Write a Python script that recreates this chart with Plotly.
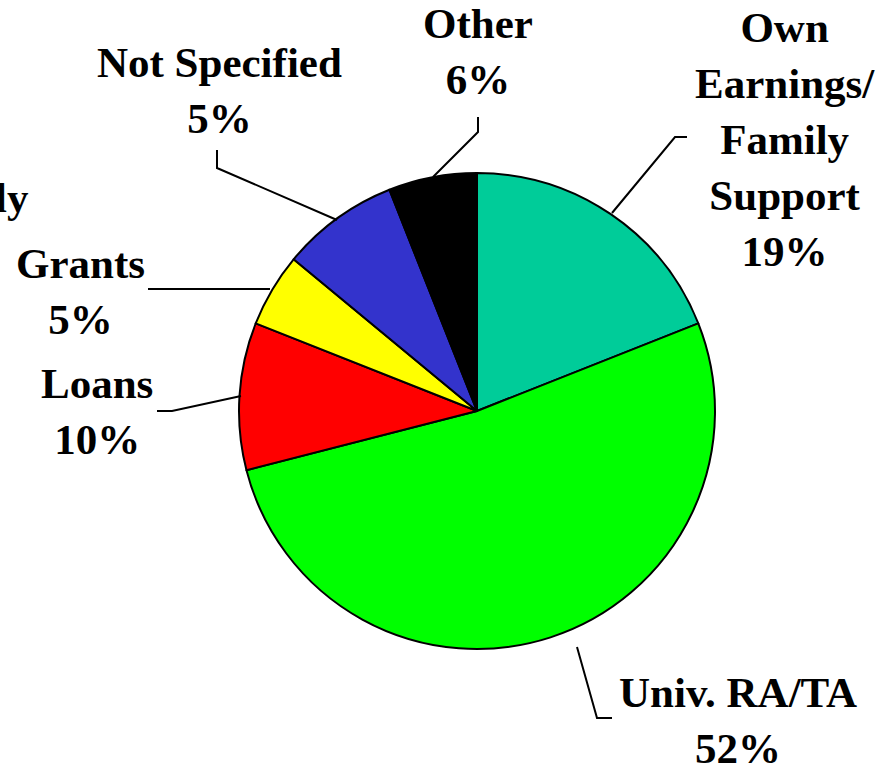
import plotly.graph_objects as go

W, H = 893, 765

# Data
categories = ["Own Earnings/ Family Support", "Univ. RA/TA", "Loans", "Grants", "Not Specified", "Other"]
slice_values = [19, 52, 10, 5, 8, 6]          # slice sizes as drawn
label_percents = ["19%", "52%", "10%", "5%", "5%", "6%"]  # percentages as printed
colors = ["#00CC99", "#00FF00", "#FF0000", "#FFFF00", "#3333CC", "#000000"]

# layout helpers (pixel -> paper)
def px(x, y):
    return x / W, 1 - y / H

cx, cy, r = 477, 411, 238
x0, y0 = px(cx - r, cy + r)
x1, y1 = px(cx + r, cy - r)

fig = go.Figure(go.Pie(
    labels=categories,
    values=slice_values,
    sort=False,
    direction="clockwise",
    rotation=0,
    marker=dict(colors=colors, line=dict(color="black", width=2)),
    textinfo="none",
    hoverinfo="none",
    domain=dict(x=[x0, x1], y=[y0, y1]),
    showlegend=False,
))

font = dict(family="Liberation Serif, Times New Roman, serif", size=43, color="black")

label_text = [
    "<b>Own<br>Earnings/<br>Family<br>Support<br>%s</b>" % label_percents[0],
    "<b>Univ. RA/TA<br>%s</b>" % label_percents[1],
    "<b>Loans<br>%s</b>" % label_percents[2],
    "<b>Grants<br>%s</b>" % label_percents[3],
    "<b>Not Specified<br>%s</b>" % label_percents[4],
    "<b>Other<br>%s</b>" % label_percents[5],
]
label_pos = [(785, 139), (738, 720), (97, 411), (80, 291), (219, 90), (478, 52)]

annotations = []
for t, (lx, ly) in zip(label_text, label_pos):
    ax, ay = px(lx, ly)
    annotations.append(dict(x=ax, y=ay, xref="paper", yref="paper", text=t, showarrow=False,
                            xanchor="center", yanchor="middle", font=font, align="center"))
# cut-off label at left edge
ax, ay = px(31, 198)
annotations.append(dict(x=ax, y=ay, xref="paper", yref="paper", text="<b>ly</b>", showarrow=False,
                        xanchor="right", yanchor="middle", font=font))

leaders = [
    [(687, 137), (675, 137), (612, 213)],
    [(612, 718), (597, 718), (577, 647)],
    [(157, 411), (172, 411), (241, 396)],
    [(148, 289), (270, 289)],
    [(217, 150), (217, 168), (337, 220)],
    [(478, 117), (478, 132), (433, 177)],
]
shapes = []
for pts in leaders:
    p = [px(x, y) for x, y in pts]
    path = "M %f %f " % p[0] + " ".join("L %f %f" % q for q in p[1:])
    shapes.append(dict(type="path", path=path, xref="paper", yref="paper",
                       line=dict(color="black", width=2)))

fig.update_layout(
    width=W, height=H,
    margin=dict(l=0, r=0, t=0, b=0),
    paper_bgcolor="white", plot_bgcolor="white",
    annotations=annotations, shapes=shapes,
)

fig.write_html("out.html", config={"displayModeBar": False},
               post_script="document.body.style.margin='0px';")
